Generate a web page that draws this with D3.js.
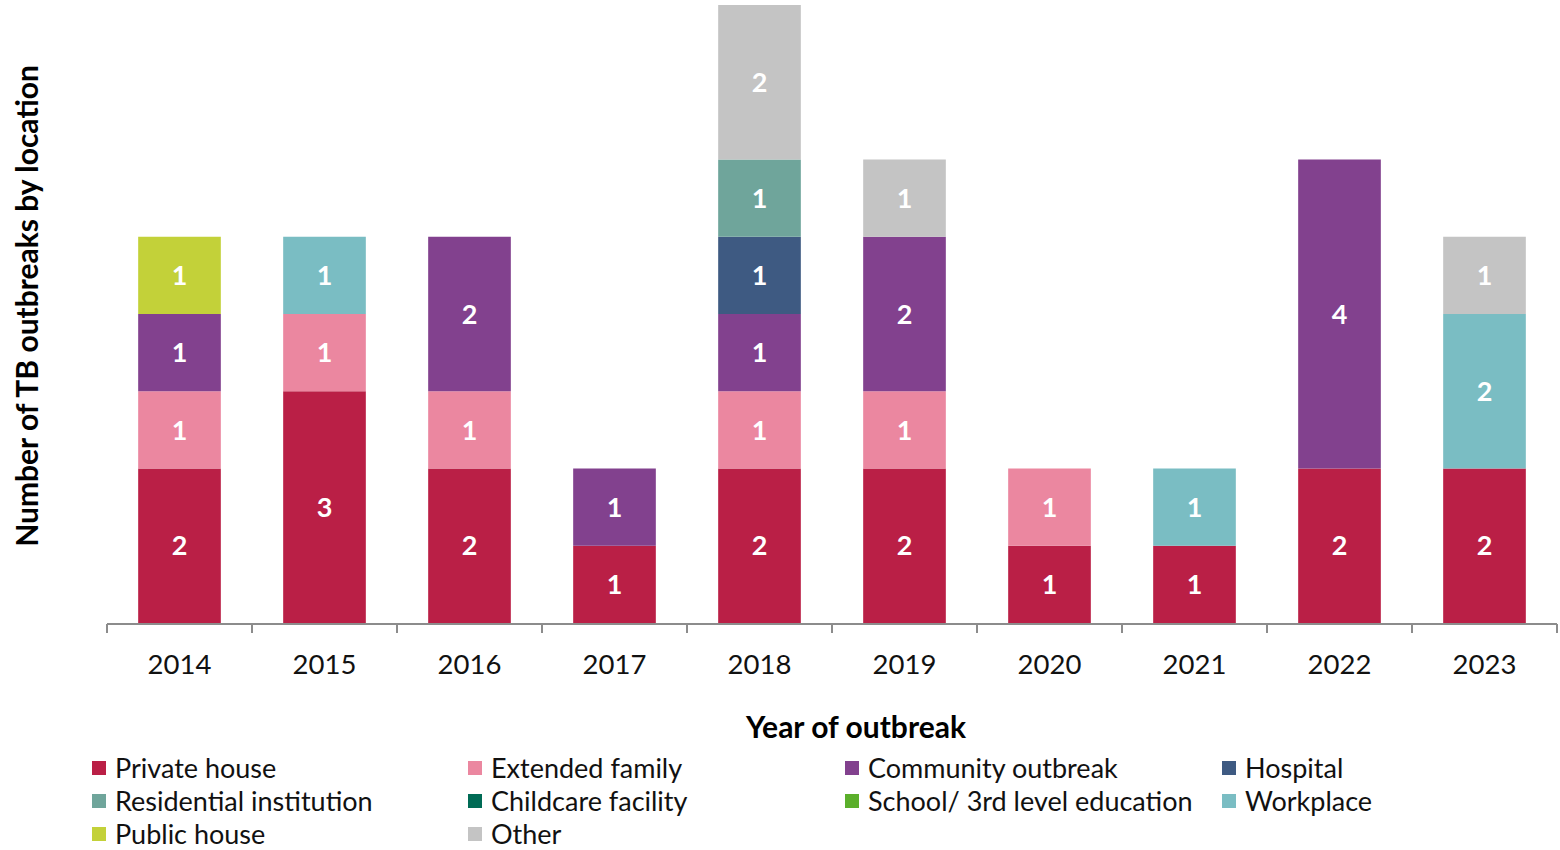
<!DOCTYPE html>
<html>
<head>
<meta charset="utf-8">
<script src="https://cdn.jsdelivr.net/npm/d3@7"></script>
<style>
  body { margin: 0; background: #fff; }
  text { font-family: Lato, "Open Sans", sans-serif; }
</style>
</head>
<body>
<div id="chart"></div>
<script>
const width = 1560, height = 850;
const margin = { top: 5, left: 107, right: 3, baseline: 623 };

const years = ["2014", "2015", "2016", "2017", "2018", "2019", "2020", "2021", "2022", "2023"];
const locations = ["Private house", "Extended family", "Community outbreak", "Hospital",
  "Residential institution", "Childcare facility", "School/ 3rd level education",
  "Workplace", "Public house", "Other"];
const colors = ["#BA1F46", "#EB87A0", "#82418E", "#3E5A82", "#6FA59B", "#006B55",
  "#5BAF2B", "#7ABDC3", "#C3D139", "#C4C4C4"];

// values per location, one per year
const privateHouse   = [2, 3, 2, 1, 2, 2, 1, 1, 2, 2];
const extendedFamily = [1, 1, 1, 0, 1, 1, 1, 0, 0, 0];
const community      = [1, 0, 2, 1, 1, 2, 0, 0, 4, 0];
const hospital       = [0, 0, 0, 0, 1, 0, 0, 0, 0, 0];
const residential    = [0, 0, 0, 0, 1, 0, 0, 0, 0, 0];
const childcare      = [0, 0, 0, 0, 0, 0, 0, 0, 0, 0];
const school         = [0, 0, 0, 0, 0, 0, 0, 0, 0, 0];
const workplace      = [0, 1, 0, 0, 0, 0, 0, 1, 0, 2];
const publicHouse    = [1, 0, 0, 0, 0, 0, 0, 0, 0, 0];
const other          = [0, 0, 0, 0, 2, 1, 0, 0, 0, 1];

const series = [privateHouse, extendedFamily, community, hospital, residential,
  childcare, school, workplace, publicHouse, other];

const rows = years.map((y, i) => {
  const r = { year: y };
  locations.forEach((l, j) => r[l] = series[j][i]);
  return r;
});

const stacked = d3.stack().keys(locations)(rows);

const svg = d3.select("#chart").append("svg")
  .attr("width", width).attr("height", height);

const x = d3.scaleBand().domain(years)
  .range([margin.left, width - margin.right])
  .paddingInner(0.43).paddingOuter(0.215);

const y = d3.scaleLinear().domain([0, 8]).range([margin.baseline, margin.top]);

const color = d3.scaleOrdinal().domain(locations).range(colors);

const layer = svg.selectAll(".layer")
  .data(stacked)
  .join("g")
  .attr("class", "layer")
  .attr("fill", d => color(d.key));

layer.selectAll("rect")
  .data(d => d.filter(p => p[1] - p[0] > 0))
  .join("rect")
  .attr("x", d => x(d.data.year))
  .attr("width", x.bandwidth())
  .attr("y", d => y(d[1]))
  .attr("height", d => y(d[0]) - y(d[1]));

layer.selectAll("text")
  .data(d => d.filter(p => p[1] - p[0] > 0).map(p => ({ p, v: p[1] - p[0] })))
  .join("text")
  .attr("x", d => x(d.p.data.year) + x.bandwidth() / 2)
  .attr("y", d => (y(d.p[0]) + y(d.p[1])) / 2)
  .attr("dy", "0.36em")
  .attr("text-anchor", "middle")
  .attr("fill", "#fff")
  .style("font-size", "27px")
  .style("font-weight", "bold")
  .text(d => d.v);

// x axis with ticks at band boundaries
const axisY = margin.baseline + 1;
svg.append("line")
  .attr("x1", margin.left).attr("x2", width - margin.right)
  .attr("y1", axisY).attr("y2", axisY)
  .attr("stroke", "#8c8c8c").attr("stroke-width", 2);

const step = x.step();
const tickXs = d3.range(years.length + 1).map(i => margin.left + i * step);
svg.selectAll(".tick")
  .data(tickXs)
  .join("line")
  .attr("x1", d => d).attr("x2", d => d)
  .attr("y1", axisY).attr("y2", axisY + 9)
  .attr("stroke", "#8c8c8c").attr("stroke-width", 2);

svg.selectAll(".xlabel")
  .data(years)
  .join("text")
  .attr("x", d => x(d) + x.bandwidth() / 2)
  .attr("y", 664)
  .attr("dy", "0.36em")
  .attr("text-anchor", "middle")
  .attr("fill", "#111")
  .style("font-size", "27.5px")
  .text(d => d);

svg.append("text")
  .attr("x", 856).attr("y", 727).attr("dy", "0.36em")
  .attr("text-anchor", "middle")
  .style("font-size", "30px").style("font-weight", "bold")
  .text("Year of outbreak");

svg.append("text")
  .attr("transform", "translate(27,306) rotate(-90)")
  .attr("dy", "0.36em")
  .attr("text-anchor", "middle")
  .style("font-size", "30px").style("font-weight", "bold")
  .text("Number of TB outbreaks by location");

// legend, 4 columns
const colX = [92, 468, 845, 1222];
const rowY = [768, 801, 834];
const legend = svg.selectAll(".legend")
  .data(locations)
  .join("g")
  .attr("class", "legend")
  .attr("transform", (d, i) => `translate(${colX[i % 4]},${rowY[Math.floor(i / 4)]})`);

legend.append("rect")
  .attr("x", 0).attr("y", -7)
  .attr("width", 14).attr("height", 14)
  .attr("fill", d => color(d));

legend.append("text")
  .attr("x", 23).attr("dy", "0.36em")
  .attr("fill", "#111")
  .style("font-size", "27px")
  .text(d => d);
</script>
</body>
</html>
